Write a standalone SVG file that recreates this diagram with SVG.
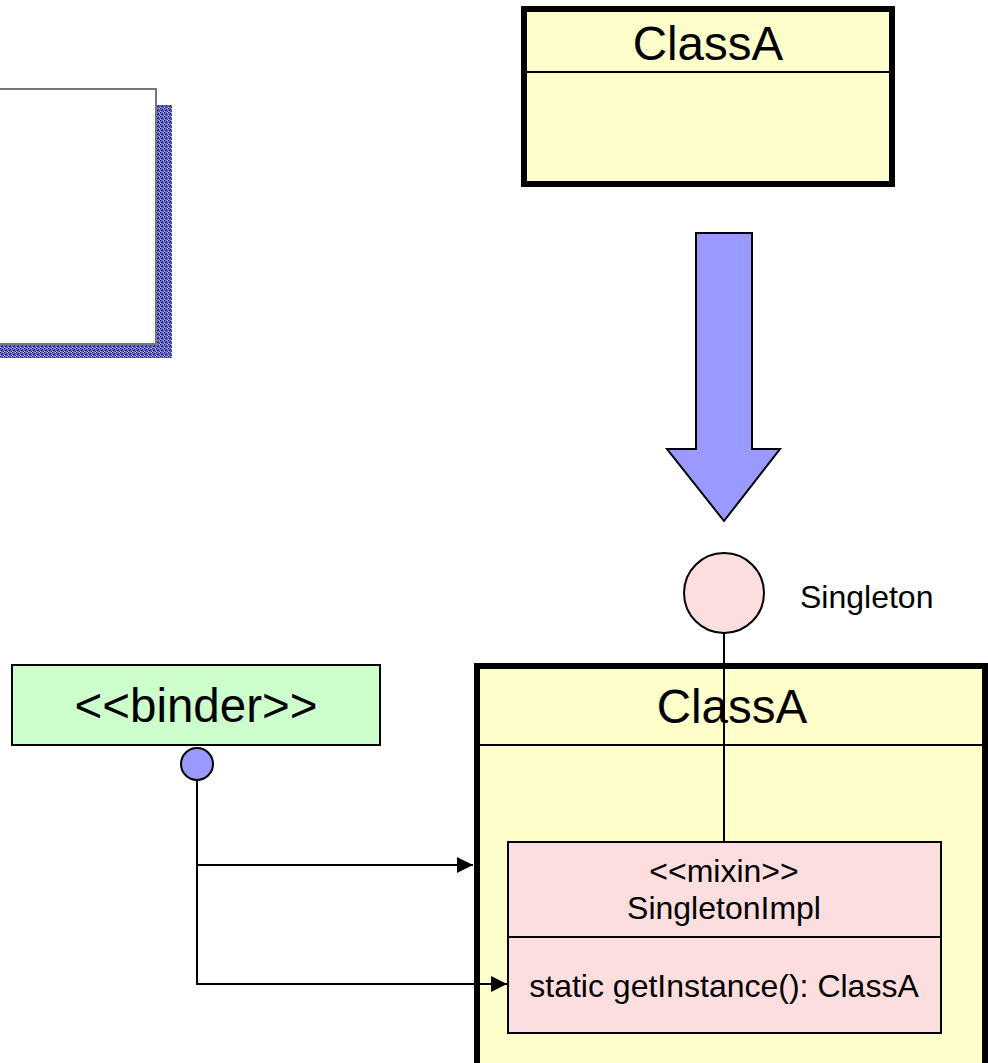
<svg xmlns="http://www.w3.org/2000/svg" width="988" height="1063" viewBox="0 0 988 1063">
<style>
text{font-family:"Liberation Sans",Arial,sans-serif;fill:#000}
.big{font-size:47.5px}
.mid{font-size:32px}
.ln{stroke:#000;stroke-width:2;fill:none}
</style>
<defs>
<pattern id="dots" width="4" height="4" patternUnits="userSpaceOnUse">
<rect width="4" height="4" fill="#7070c0"/>
<rect x="0" y="0" width="1" height="1" fill="#0a0a70"/>
<rect x="2" y="1" width="1" height="1" fill="#20208a"/>
<rect x="1" y="2" width="1" height="1" fill="#0a0a70"/>
<rect x="3" y="3" width="1" height="1" fill="#2a2a96"/>
<rect x="3" y="0" width="1" height="1" fill="#c8c8ee"/>
<rect x="0" y="3" width="1" height="1" fill="#b8b8e8"/>
<rect x="2" y="2" width="1" height="1" fill="#4040a8"/>
</pattern>
<marker id="arr" markerWidth="16" markerHeight="16" refX="16" refY="8" orient="auto" markerUnits="userSpaceOnUse">
<path d="M0,0 L16,8 L0,16 Z" fill="#000"/>
</marker>
</defs>

<g id="note">
<path d="M156,105 H172 V358 H0 V344 H156 Z" fill="url(#dots)"/>
<rect x="-2" y="89" width="158" height="255" fill="#fff" stroke="#777" stroke-width="2"/>
</g>

<g id="classA-top">
<rect x="524" y="9" width="368" height="175" fill="#ffffcc" stroke="#000" stroke-width="6"/>
<line x1="524" y1="72" x2="892" y2="72" class="ln"/>
<text x="708" y="60" class="big" text-anchor="middle">ClassA</text>
</g>

<g id="transform-arrow">
<path d="M696,233 H752 V449 H780 L724,521 L667,449 H696 Z" fill="#9999ff" stroke="#000" stroke-width="2"/>
</g>

<g id="binder">
<rect x="12" y="665" width="368" height="80" fill="#ccffcc" stroke="#000" stroke-width="2"/>
<text x="196" y="722" class="big" text-anchor="middle">&lt;&lt;binder&gt;&gt;</text>
</g>

<g id="classA-bottom">
<rect x="477" y="666" width="508" height="402" fill="#ffffcc" stroke="#000" stroke-width="6"/>
<line x1="477" y1="745" x2="985" y2="745" class="ln"/>
<text x="732" y="723" class="big" text-anchor="middle">ClassA</text>
</g>

<g id="connectors">
<line x1="724" y1="633" x2="724" y2="842" class="ln"/>
<polyline points="197,780 197,984 507,984" class="ln" marker-end="url(#arr)"/>
<line x1="197" y1="865" x2="473" y2="865" class="ln" marker-end="url(#arr)"/>
</g>

<g id="mixin">
<rect x="508" y="842" width="433" height="191" fill="#fcdede" stroke="#000" stroke-width="2"/>
<line x1="508" y1="937" x2="941" y2="937" class="ln"/>
<text x="724" y="882" class="mid" text-anchor="middle">&lt;&lt;mixin&gt;&gt;</text>
<text x="724" y="919" class="mid" text-anchor="middle">SingletonImpl</text>
<text x="724" y="997" class="mid" text-anchor="middle">static getInstance(): ClassA</text>
</g>

<g id="singleton-iface">
<circle cx="724" cy="593" r="40" fill="#fcdede" stroke="#000" stroke-width="2"/>
<text x="800" y="608" class="mid">Singleton</text>
</g>

<g id="binder-port">
<circle cx="197" cy="764" r="16" fill="#9999ff" stroke="#000" stroke-width="2"/>
</g>
</svg>
